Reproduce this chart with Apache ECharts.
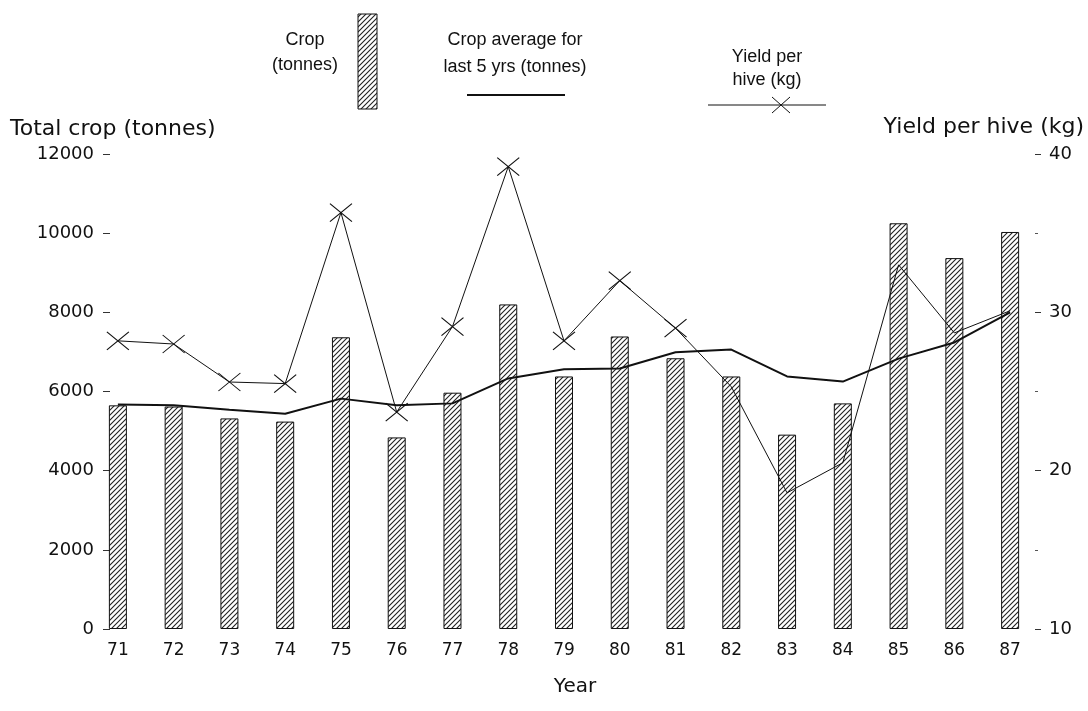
<!DOCTYPE html>
<html>
<head>
<meta charset="utf-8">
<script src="https://cdn.jsdelivr.net/npm/echarts@6/dist/echarts.min.js"></script>
<style>
  html, body { margin: 0; padding: 0; background: #fff; }
  #chart { width: 1088px; height: 711px; }
</style>
</head>
<body>
<div id="chart"></div>
<script>
// values
const years = ['71', '72', '73', '74', '75', '76', '77', '78', '79', '80', '81', '82', '83', '84', '85', '86', '87'];
const crop = [5650, 5620, 5320, 5240, 7370, 4840, 5970, 8200, 6380, 7390, 6840, 6380, 4910, 5700, 10250, 9370, 10030];
const cropAvg = [5670, 5650, 5540, 5440, 5820, 5650, 5700, 6330, 6560, 6580, 6990, 7060, 6380, 6250, 6830, 7240, 8000];
const yieldPerHive = [28.2, 28.0, 25.6, 25.5, 36.3, 23.7, 29.1, 39.2, 28.2, 32.0, 29.0, 25.3, 18.6, 20.5, 33.0, 28.7, 30.1];
const cropTicks = [0, 12000, 2000];
const yieldTicks = [10, 40, 10];

// hatch fill like the printed bars
function hatch() {
    const c = document.createElement('canvas');
    c.width = 5;
    c.height = 5;
    const g = c.getContext('2d');
    g.fillStyle = '#fff';
    g.fillRect(0, 0, 5, 5);
    g.strokeStyle = '#222';
    g.lineWidth = 1.1;
    g.beginPath();
    g.moveTo(0, 5); g.lineTo(5, 0);
    g.moveTo(-1, 1); g.lineTo(1, -1);
    g.moveTo(4, 6); g.lineTo(6, 4);
    g.stroke();
    return { image: c, repeat: 'repeat' };
}
const hatchFill = hatch();

const crossPath = 'path://M0,0L10,10M10,0L0,10';
const font = 'DejaVu Sans';
const legendFont = 'Liberation Sans';

const chart = echarts.init(document.getElementById('chart'), null, { renderer: 'canvas' });

const option = {
    animation: false,
    backgroundColor: '#fff',
    grid: { left: 90, top: 154, width: 948, height: 475 },
    xAxis: {
        type: 'category',
        data: years,
        name: 'Year',
        nameLocation: 'middle',
        nameGap: 48,
        nameTextStyle: { fontFamily: font, fontSize: 20, color: '#111', padding: [0, 0, 0, 22] },
        axisLine: { show: false },
        axisTick: { show: false },
        axisLabel: { margin: 13, fontFamily: font, fontSize: 17, color: '#111' }
    },
    yAxis: [{
        type: 'value',
        min: cropTicks[0],
        max: cropTicks[1],
        interval: cropTicks[2],
        offset: -20,
        axisLine: { show: false },
        axisTick: { show: true, length: 7, lineStyle: { color: '#333' } },
        splitLine: { show: false },
        axisLabel: {
            margin: 16, fontFamily: font, fontSize: 18, color: '#111',
            formatter: function (v) { return String(v); }
        }
    }, {
        type: 'value',
        position: 'right',
        min: yieldTicks[0],
        max: yieldTicks[1],
        interval: yieldTicks[2],
        offset: -3,
        axisLine: { show: false },
        axisTick: { show: true, length: 6, lineStyle: { color: '#333' } },
        minorTick: { show: true, splitNumber: 2, length: 3, lineStyle: { color: '#555' } },
        splitLine: { show: false },
        axisLabel: { margin: 14, fontFamily: font, fontSize: 18, color: '#111' }
    }],
    series: [{
        name: 'Crop (tonnes)',
        type: 'bar',
        data: crop,
        barWidth: 18,
        itemStyle: { color: hatchFill, borderColor: '#111', borderWidth: 1 },
        z: 2
    }, {
        name: 'Crop average for last 5 yrs (tonnes)',
        type: 'line',
        data: cropAvg,
        symbol: 'none',
        lineStyle: { color: '#111', width: 2 },
        z: 3
    }, {
        name: 'Yield per hive (kg)',
        type: 'line',
        yAxisIndex: 1,
        data: yieldPerHive.map(function (v, i) {
            return { value: v, symbol: i <= 10 ? crossPath : 'none' };
        }),
        symbolSize: [22, 18],
        itemStyle: { color: 'transparent', borderColor: '#111', borderWidth: 1 },
        lineStyle: { color: '#111', width: 1 },
        z: 4
    }],
    graphic: [
        { type: 'text', left: 10, top: 118, style: { text: 'Total crop (tonnes)', font: '22px "' + font + '"', fill: '#111' } },
        { type: 'text', right: 4, top: 116, style: { text: 'Yield per hive (kg)', font: '22px "' + font + '"', fill: '#111' } },

        // legend: crop
        { type: 'text', x: 305, y: 40, style: { text: 'Crop', font: '18px "' + legendFont + '"', fill: '#111', align: 'center', verticalAlign: 'middle' } },
        { type: 'text', x: 305, y: 65, style: { text: '(tonnes)', font: '18px "' + legendFont + '"', fill: '#111', align: 'center', verticalAlign: 'middle' } },
        { type: 'rect', shape: { x: 358, y: 14, width: 19, height: 95 }, style: { fill: hatchFill, stroke: '#111', lineWidth: 1 } },

        // legend: average
        { type: 'text', x: 515, y: 40, style: { text: 'Crop average for', font: '18px "' + legendFont + '"', fill: '#111', align: 'center', verticalAlign: 'middle' } },
        { type: 'text', x: 515, y: 67, style: { text: 'last 5 yrs (tonnes)', font: '18px "' + legendFont + '"', fill: '#111', align: 'center', verticalAlign: 'middle' } },
        { type: 'line', shape: { x1: 467, y1: 95, x2: 565, y2: 95 }, style: { stroke: '#111', lineWidth: 2 } },

        // legend: yield
        { type: 'text', x: 767, y: 57, style: { text: 'Yield per', font: '18px "' + legendFont + '"', fill: '#111', align: 'center', verticalAlign: 'middle' } },
        { type: 'text', x: 767, y: 80, style: { text: 'hive (kg)', font: '18px "' + legendFont + '"', fill: '#111', align: 'center', verticalAlign: 'middle' } },
        { type: 'line', shape: { x1: 708, y1: 105, x2: 826, y2: 105 }, style: { stroke: '#111', lineWidth: 1 } },
        { type: 'line', shape: { x1: 772, y1: 97, x2: 790, y2: 113 }, style: { stroke: '#111', lineWidth: 1 } },
        { type: 'line', shape: { x1: 790, y1: 97, x2: 772, y2: 113 }, style: { stroke: '#111', lineWidth: 1 } }
    ]
};

chart.setOption(option);
</script>
</body>
</html>
